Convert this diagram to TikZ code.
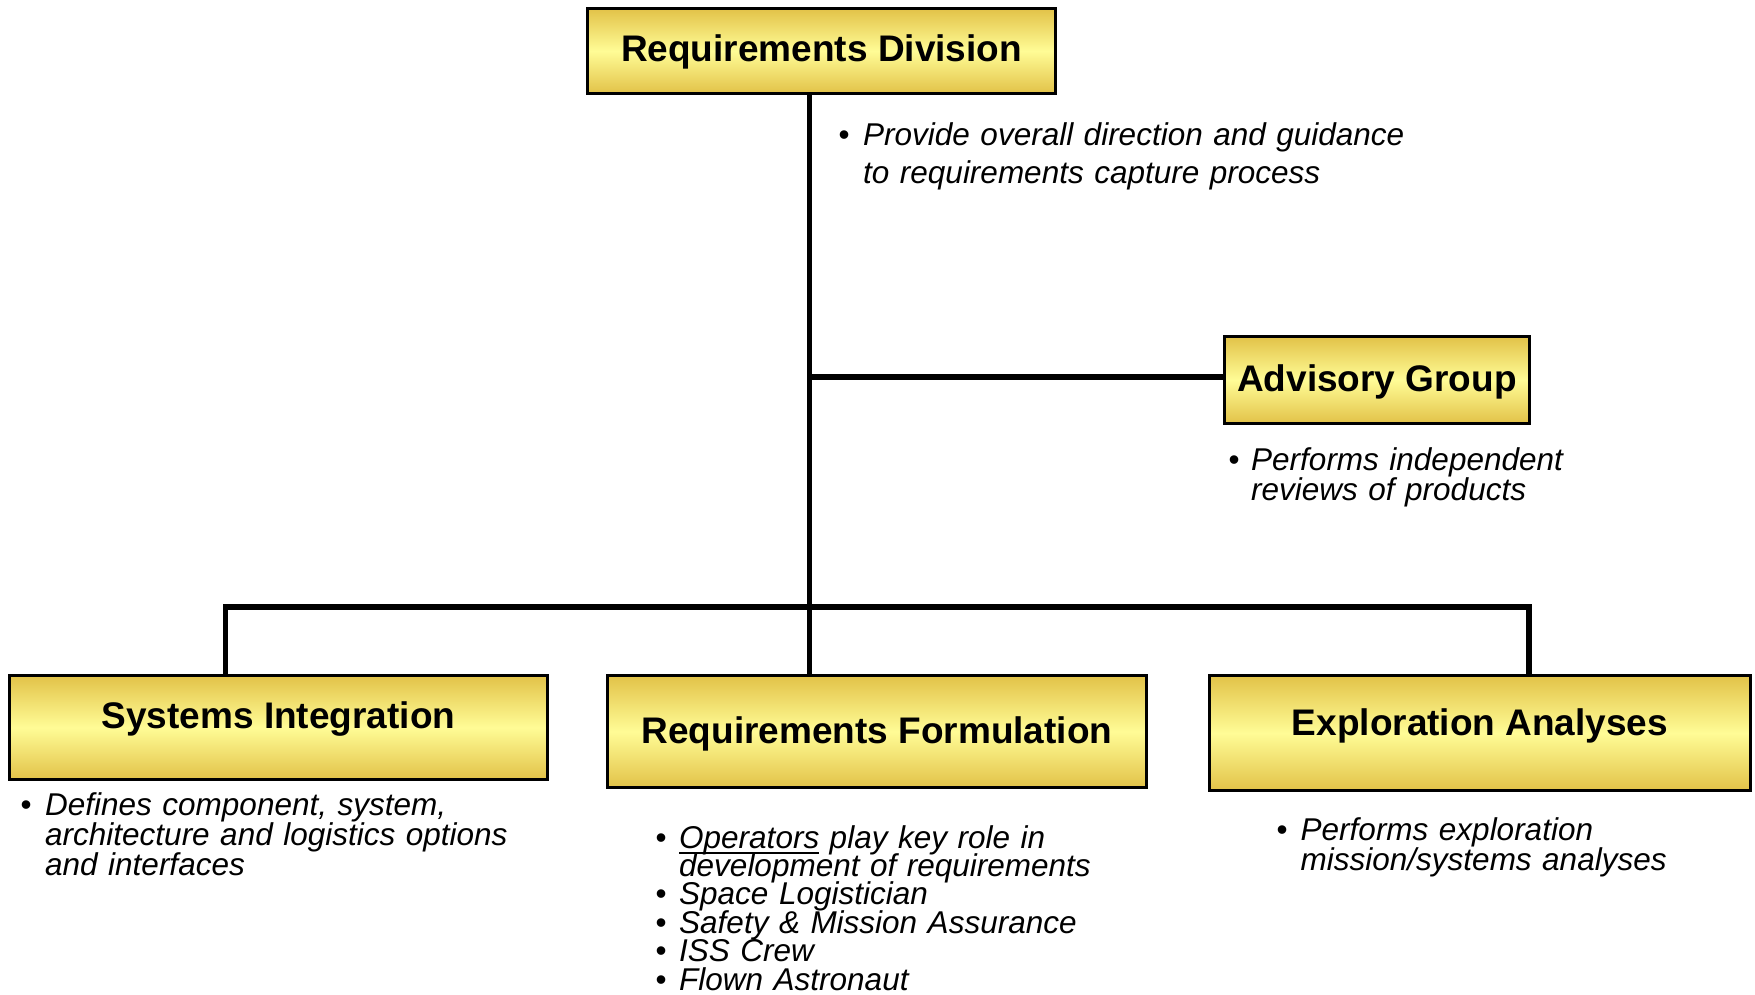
\documentclass[tikz,border=0pt]{standalone}
\usepackage{fontspec}
\setmainfont{Liberation Sans}
\definecolor{boxedge}{RGB}{226,194,72}
\definecolor{boxmid}{RGB}{255,252,150}
\newcommand\bl[1][22.5pt]{\makebox[#1][l]{\upshape\textbullet}}
\newcommand\ind[1][22.5pt]{\hspace*{#1}}
\newcommand\ulx[1]{\setbox0\hbox{#1}\rlap{\rule[-5.5pt]{\wd0}{1.8pt}}\box0\relax}
\newcommand\tightlines{\lineskiplimit=-100pt\relax}
\tikzset{
  orgbox/.style={draw=black, line width=3pt, top color=boxedge, bottom color=boxedge,
    middle color=boxmid, font=\bfseries\fontsize{37}{40}\selectfont,
    text height=27pt, inner sep=0pt},
  link/.style={line width=5.5pt, line join=miter, draw=black},
  note/.style={anchor=base west, inner sep=0pt, align=left},
  notefont/.style={font=\itshape\fontsize{31.5}{#1}\selectfont}
}
\begin{document}
\begin{tikzpicture}[x=1pt,y=-1pt]
\useasboundingbox (0,0) rectangle (1755,994);
% boxes
\node[orgbox, minimum width=468pt, minimum height=85pt, text depth=7pt] (top) at (821.5,51) {Requirements Division};
\node[orgbox, minimum width=305pt, minimum height=87pt, text depth=5pt] (adv) at (1377,380) {Advisory Group};
\node[orgbox, minimum width=538pt, minimum height=104pt, text depth=24.6pt] (si) at (278.5,727.5) {Systems Integration};
\node[orgbox, minimum width=539pt, minimum height=112pt, text depth=4pt] (rf) at (877,731.5) {Requirements Formulation};
\node[orgbox, minimum width=541pt, minimum height=115pt, text depth=23pt] (ea) at (1480,733) {Exploration Analyses};
% junction coordinates
\coordinate (j) at (809.5,377);
\coordinate (sx) at (225.5,607);
\coordinate (ex) at (1529,607);
% connectors
\draw[link] (top.south -| j) -- (rf.north -| j);
\draw[link] (j) -- (adv.west |- j);
\draw[link] (si.north -| sx) -- (sx) -- (ex) -- (ea.north -| ex);
% notes
\node[note, notefont=38.5pt, text width=580pt] (n0) at (838.5,145)
  {\bl[24.5pt]Provide overall direction and guidance\\\ind[24.5pt]to requirements capture process};
\node[note, notefont=24.5pt, text width=400pt] (n1) at (1228.5,470)
  {\bl[22.5pt]Performs independent\\\ind[22.5pt]reviews of products};
\node[note, notefont=26.5pt, text width=520pt] (n2) at (20.5,815)
  {\bl[24.5pt]Defines component, system,\\\ind[24.5pt]architecture and logistics options\\\ind[24.5pt]and interfaces};
\node[note, notefont=28.4pt, text width=520pt] (n3) at (655.5,848)
  {\tightlines\bl[23.5pt]\ulx{Operators} play key role in\\
   \ind[23.5pt]development of requirements\\
   \bl[23.5pt]Space Logistician\\
   \bl[23.5pt]Safety \& Mission Assurance\\
   \bl[23.5pt]ISS Crew\\
   \bl[23.5pt]Flown Astronaut};
\node[note, notefont=25pt, text width=440pt] (n4) at (1276.5,840)
  {\bl[24pt]Performs exploration\\\ind[24pt]mission/systems analyses};
\end{tikzpicture}
\end{document}
